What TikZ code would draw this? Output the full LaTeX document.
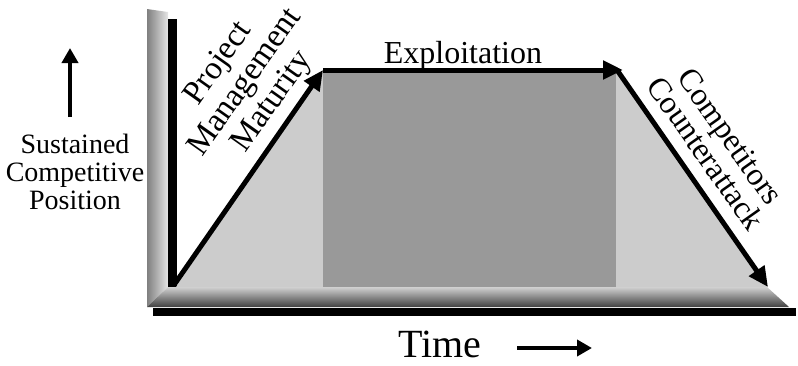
\documentclass[tikz,border=0pt]{standalone}
\usepackage{fontspec}
\setmainfont{Liberation Serif}
\usetikzlibrary{arrows.meta}
\tikzset{
  bigarrow/.style={line width=5pt,-{Triangle[length=20pt,width=18pt]}},
  smallarrow/.style={line width=4.5pt,-{Triangle[length=15pt,width=16pt]}},
  lbl/.style={inner sep=0pt,font=\fontsize{32}{31}\selectfont},
  sidelbl/.style={inner sep=0pt,align=center,font=\fontsize{28}{28}\selectfont},
}
\begin{document}
\begin{tikzpicture}[x=1pt,y=-1pt]
\useasboundingbox (0,0) rectangle (798,365);
% metal frame
\shade[left color=black!50,right color=black!10] (147,9) -- (168,12) -- (168,287) -- (147,307) -- cycle;
\shade[top color=black!18,middle color=black!28,bottom color=black!75] (147,307) -- (168,287) -- (767,287) -- (789,307) -- cycle;
\fill[black] (168,19) rectangle (177,287);
\fill[black] (153,308) rectangle (796,316);
% phases
\coordinate (start) at (174,285);
\coordinate (rise) at (323,70);
\coordinate (fall) at (617,70);
\coordinate (fallend) at (623,70);
\coordinate (stop) at (768,287);
\fill[black!20] (176,287) -- (rise) -- (fall) -- (stop) -- cycle;
\fill[black!40] (323,73) rectangle (616,287);
\draw[bigarrow] (start) -- (rise);
\draw[bigarrow] (rise) -- (fallend);
\draw[bigarrow] (fall) -- (stop);
% labels
\node[lbl,anchor=base] (exploit) at (463,63) {Exploitation};
\node[lbl,rotate=54.7,align=center,font=\fontsize{33}{33}\selectfont] (maturity) at (246,83) {Project\\Management\\Maturity};
\node[lbl,rotate=-54.8,align=center,font=\fontsize{32}{29}\selectfont] (counter) at (718,145) {Competitors\\Counterattack};
\node[sidelbl] (position) at (75,172) {Sustained\\Competitive\\Position};
\node[lbl,anchor=base,font=\fontsize{40}{40}\selectfont] (time) at (440,357) {Time};
% axis arrows
\coordinate (upfrom) at (70,117);
\coordinate (upto) at (70,48);
\coordinate (timefrom) at (517,348);
\coordinate (timeto) at (592,348);
\draw[smallarrow] (upfrom) -- (upto);
\draw[smallarrow,line width=4pt] (timefrom) -- (timeto);
\end{tikzpicture}
\end{document}
